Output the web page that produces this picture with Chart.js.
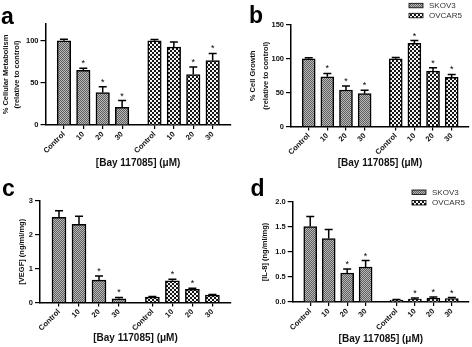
<!DOCTYPE html>
<html>
<head>
<meta charset="utf-8">
<script src="https://cdn.jsdelivr.net/npm/chart.js@4.4.0/dist/chart.umd.min.js"></script>
<style>
  html, body { margin: 0; padding: 0; background: #fff; }
  #figure { position: relative; width: 472px; height: 347px; overflow: hidden; background: #fff; }
  #figure canvas { position: absolute; }
</style>
</head>
<body>
<div id="figure">
  <canvas id="panelA" width="236" height="175" style="left:0;top:0"></canvas>
  <canvas id="panelB" width="236" height="175" style="left:236px;top:0"></canvas>
  <canvas id="panelC" width="236" height="172" style="left:0;top:175px"></canvas>
  <canvas id="panelD" width="236" height="172" style="left:236px;top:175px"></canvas>
</div>
<script>
const doseLabels = ["Control", "10", "20", "30"];
const cellLines = ["SKOV3", "OVCAR5"];
const xTitle = "[Bay 117085] (\u03bcM)";

// a - cellular metabolism (%)
const metabSkov = [100, 65, 38.5, 21];
const metabSkovErr = [2, 2.5, 7, 8];
const metabSkovSig = [false, true, true, true];
const metabOvcar = [100, 92.5, 60, 76.5];
const metabOvcarErr = [1.5, 6, 9, 8.5];
const metabOvcarSig = [false, false, true, true];

// b - cell growth (%)
const growthSkov = [100, 73.5, 54, 48.5];
const growthSkovErr = [1.5, 5, 6, 5];
const growthSkovSig = [false, true, true, true];
const growthOvcar = [100, 123, 82, 72.5];
const growthOvcarErr = [2, 4, 5, 4.5];
const growthOvcarSig = [false, true, true, true];

// c - VEGF (ng/ml/mg)
const vegfSkov = [2.52, 2.31, 0.66, 0.11];
const vegfSkovErr = [0.19, 0.24, 0.12, 0.04];
const vegfSkovSig = [false, false, true, true];
const vegfOvcar = [0.16, 0.64, 0.39, 0.22];
const vegfOvcarErr = [0.02, 0.05, 0.03, 0.02];
const vegfOvcarSig = [false, true, true, false];

// d - IL-8 (ng/ml/mg)
const il8Skov = [1.51, 1.27, 0.58, 0.7];
const il8SkovErr = [0.2, 0.18, 0.08, 0.13];
const il8SkovSig = [false, false, true, true];
const il8Ovcar = [0.04, 0.06, 0.08, 0.07];
const il8OvcarErr = [0.01, 0.02, 0.02, 0.02];
const il8OvcarSig = [false, true, true, true];

const FONT = "'Liberation Sans', Arial, sans-serif";
const groupGap = 0.67; // extra space between the two cell lines, in bar slots

function makePattern(cells, colors) {
  const c = document.createElement("canvas");
  c.width = cells * 2;
  c.height = cells * 2;
  const g = c.getContext("2d");
  g.fillStyle = colors[1];
  g.fillRect(0, 0, c.width, c.height);
  g.fillStyle = colors[0];
  g.fillRect(0, 0, cells, cells);
  g.fillRect(cells, cells, cells, cells);
  return g.createPattern(c, "repeat");
}
const skovFill = makePattern(1, ["#5f5f5f", "#b8b8b8"]);
const ovcarFill = makePattern(2, ["#161616", "#f4f4f4"]);
const fills = [skovFill, ovcarFill];

function barPositions(group) {
  return doseLabels.map((_, i) => group * (doseLabels.length + groupGap) + i + 1);
}

// error bars, significance stars, panel letter and legend
const decorPlugin = {
  id: "panelDecor",
  afterDatasetsDraw(chart) {
    const ctx = chart.ctx;
    const yScale = chart.scales.y;
    ctx.save();
    ctx.strokeStyle = "#000";
    ctx.fillStyle = "#000";
    ctx.lineWidth = 1.5;
    ctx.font = "9px " + FONT;
    ctx.textAlign = "center";
    ctx.textBaseline = "alphabetic";
    chart.data.datasets.forEach((ds, di) => {
      const meta = chart.getDatasetMeta(di);
      meta.data.forEach((bar, i) => {
        const capY = yScale.getPixelForValue(ds.data[i].y + ds.errors[i]);
        ctx.beginPath();
        ctx.moveTo(bar.x, bar.y);
        ctx.lineTo(bar.x, capY);
        ctx.moveTo(bar.x - 4, capY);
        ctx.lineTo(bar.x + 4, capY);
        ctx.stroke();
        if (ds.sig[i]) ctx.fillText("*", bar.x, capY - 2);
      });
    });
    ctx.restore();
  },
  afterDraw(chart, args, opts) {
    const ctx = chart.ctx;
    ctx.save();
    ctx.fillStyle = "#000";
    ctx.textAlign = "left";
    ctx.textBaseline = "alphabetic";
    ctx.font = "bold 23px " + FONT;
    ctx.fillText(opts.letter, opts.letterX, opts.letterY);
    if (opts.legend) {
      const lg = opts.legend;
      ctx.font = "8px " + FONT;
      ctx.textBaseline = "middle";
      chart.data.datasets.forEach((ds, k) => {
        const y = lg.y + k * lg.row;
        ctx.fillStyle = ds.backgroundColor;
        ctx.fillRect(lg.x, y, 14, 4.5);
        ctx.strokeStyle = "#000";
        ctx.lineWidth = 0.8;
        ctx.strokeRect(lg.x, y, 14, 4.5);
        ctx.fillStyle = "#333";
        ctx.fillText(ds.label, lg.x + 20, y + 2.5);
      });
    }
    ctx.restore();
  }
};

function makePanel(id, p) {
  const canvas = document.getElementById(id);
  const W = canvas.width, H = canvas.height;
  const series = [
    { values: p.skov, errors: p.skovErr, sig: p.skovSig },
    { values: p.ovcar, errors: p.ovcarErr, sig: p.ovcarSig }
  ];
  const allX = barPositions(0).concat(barPositions(1));
  const datasets = series.map((s, g) => {
    const xs = barPositions(g);
    return {
      label: cellLines[g],
      data: s.values.map((v, i) => ({ x: xs[i], y: v })),
      errors: s.errors,
      sig: s.sig,
      backgroundColor: fills[g],
      borderColor: "#000",
      borderWidth: 1.5,
      barThickness: p.barW,
      maxBarThickness: p.barW,
      grouped: false
    };
  });

  return new Chart(canvas, {
    type: "bar",
    data: { datasets: datasets },
    options: {
      responsive: false,
      animation: false,
      events: [],
      layout: { padding: { left: 0, top: p.area.top, right: W - p.area.right, bottom: 0 } },
      plugins: {
        legend: { display: false },
        tooltip: { enabled: false },
        panelDecor: p.decor
      },
      scales: {
        x: {
          type: "linear",
          min: 0.05,
          max: 9.6,
          offset: false,
          afterBuildTicks: (s) => { s.ticks = allX.map((v) => ({ value: v })); },
          afterFit: (s) => { s.height = H - p.area.bottom; },
          border: { color: "#000", width: 1.5 },
          grid: { drawOnChartArea: false, offset: false, color: "#000", lineWidth: 1.2, tickLength: 4 },
          ticks: {
            autoSkip: false,
            minRotation: 45,
            maxRotation: 45,
            padding: 1,
            color: "#111",
            font: { family: FONT, size: 7.5, weight: "bold" },
            callback: (v, i) => doseLabels[i % doseLabels.length]
          },
          title: {
            display: true,
            text: xTitle,
            color: "#111",
            font: { family: FONT, size: 10, weight: "bold", lineHeight: "11px" },
            padding: { top: 0, bottom: p.xTitlePad }
          }
        },
        y: {
          min: 0,
          max: p.yMax,
          afterBuildTicks: (s) => { s.ticks = p.yTicks.map((v) => ({ value: v })); },
          afterFit: (s) => { s.width = p.area.left; },
          border: { color: "#000", width: 1.5 },
          grid: { drawOnChartArea: false, color: "#000", lineWidth: 1.2, tickLength: 5 },
          ticks: {
            padding: 2,
            color: "#111",
            font: { family: FONT, size: 7.5, weight: "bold" },
            callback: p.yFmt
          },
          title: {
            display: true,
            text: p.yTitle,
            color: "#111",
            font: { family: FONT, size: 7.5, weight: "bold", lineHeight: p.yTitleLH },
            padding: { top: p.yTitlePad, bottom: 0 }
          }
        }
      }
    },
    plugins: [decorPlugin]
  });
}

makePanel("panelA", {
  skov: metabSkov, skovErr: metabSkovErr, skovSig: metabSkovSig,
  ovcar: metabOvcar, ovcarErr: metabOvcarErr, ovcarSig: metabOvcarSig,
  area: { left: 45.5, right: 230.7, top: 24, bottom: 125 },
  barW: 13.5, yMax: 120, yTicks: [0, 50, 100], yFmt: (v) => String(v),
  yTitle: ["% Cellular Metabolism", "(relative to control)"], yTitleLH: "11px", yTitlePad: 0,
  xTitlePad: 6.5,
  decor: { letter: "a", letterX: 1, letterY: 23.5 }
});

makePanel("panelB", {
  skov: growthSkov, skovErr: growthSkovErr, skovSig: growthSkovSig,
  ovcar: growthOvcar, ovcarErr: growthOvcarErr, ovcarSig: growthOvcarSig,
  area: { left: 55, right: 233, top: 25, bottom: 126.5 },
  barW: 13, yMax: 150, yTicks: [0, 50, 100, 150], yFmt: (v) => String(v),
  yTitle: ["% Cell Growth", "(relative to control)"], yTitleLH: "13px", yTitlePad: 10,
  xTitlePad: 6.5,
  decor: { letter: "b", letterX: 13, letterY: 22.7, legend: { x: 173, y: 3.3, row: 10 } }
});

makePanel("panelC", {
  skov: vegfSkov, skovErr: vegfSkovErr, skovSig: vegfSkovSig,
  ovcar: vegfOvcar, ovcarErr: vegfOvcarErr, ovcarSig: vegfOvcarSig,
  area: { left: 40, right: 231, top: 26, bottom: 127.5 },
  barW: 14, yMax: 3, yTicks: [0, 1, 2, 3], yFmt: (v) => String(v),
  yTitle: "[VEGF] (ng/ml/mg)", yTitleLH: "11px", yTitlePad: 16.5,
  xTitlePad: 3.5,
  decor: { letter: "c", letterX: 2, letterY: 20.7 }
});

makePanel("panelD", {
  skov: il8Skov, skovErr: il8SkovErr, skovSig: il8SkovSig,
  ovcar: il8Ovcar, ovcarErr: il8OvcarErr, ovcarSig: il8OvcarSig,
  area: { left: 56.7, right: 233, top: 27, bottom: 127 },
  barW: 13, yMax: 2, yTicks: [0, 0.5, 1, 1.5, 2], yFmt: (v) => v.toFixed(1),
  yTitle: "[IL-8] (ng/ml/mg)", yTitleLH: "11px", yTitlePad: 23.5,
  xTitlePad: 2,
  decor: { letter: "d", letterX: 14.5, letterY: 20.7, legend: { x: 176, y: 15, row: 10.5 } }
});
</script>
</body>
</html>
